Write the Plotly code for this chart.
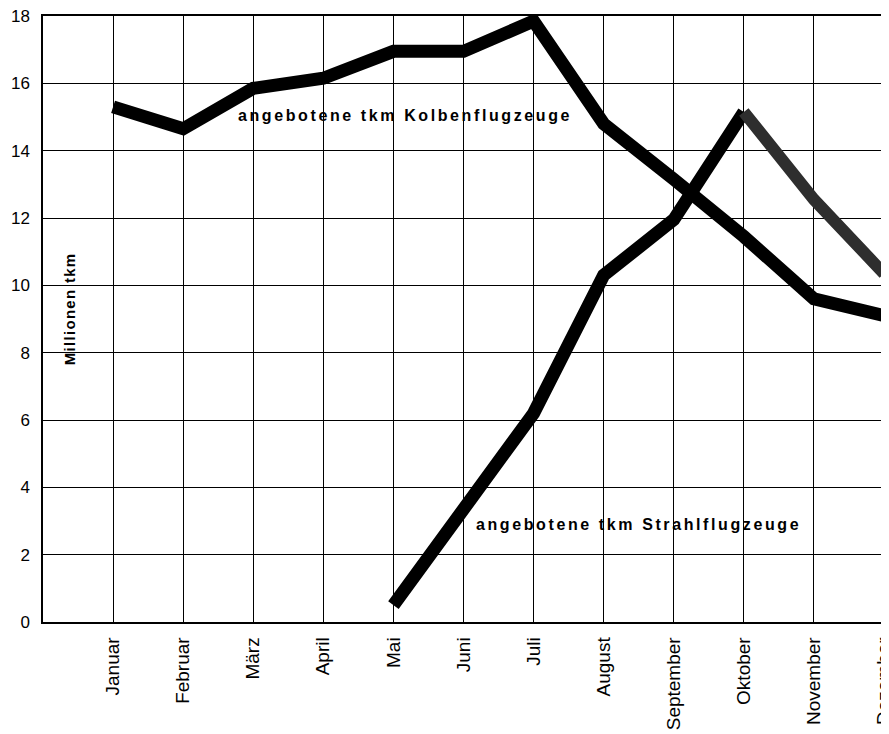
import plotly.graph_objects as go

months = ["Januar", "Februar", "März", "April", "Mai", "Juni", "Juli",
          "August", "September", "Oktober", "November", "Dezember"]
kolben = [15.3, 14.65, 15.85, 16.15, 16.95, 16.95, 17.85, 14.8, 13.15, 11.45, 9.6, 9.1]
strahl_months = ["Mai", "Juni", "Juli", "August", "September", "Oktober", "November", "Dezember"]
strahl = [0.5, 3.3, 6.2, 10.3, 11.95, 15.15, 12.55, 10.35]
y_ticks = [0, 2, 4, 6, 8, 10, 12, 14, 16, 18]

pos = {m: i + 1 for i, m in enumerate(months)}

fig = go.Figure()
fig.add_trace(go.Scatter(x=[pos[m] for m in months], y=kolben, mode="lines",
                         line=dict(color="black", width=13), showlegend=False))
xs = [pos[m] for m in strahl_months]
fig.add_trace(go.Scatter(x=xs[:6], y=strahl[:6], mode="lines",
                         line=dict(color="black", width=13), showlegend=False))
fig.add_trace(go.Scatter(x=xs[5:], y=strahl[5:], mode="lines",
                         line=dict(color="#2e2e2e", width=12), showlegend=False))

fam = "Liberation Sans, Arial, sans-serif"
lab_font = dict(family=fam, size=16, color="black")
fig.add_annotation(x=5.17, y=15.03, xref="x", yref="y", showarrow=False,
                   text='<b><span style="letter-spacing:2.6px">angebotene tkm Kolbenflugzeuge</span></b>',
                   font=lab_font)
fig.add_annotation(x=8.49, y=2.91, xref="x", yref="y", showarrow=False,
                   text='<b><span style="letter-spacing:2.6px">angebotene tkm Strahlflugzeuge</span></b>',
                   font=lab_font)
fig.add_annotation(x=0.39, y=9.3, xref="x", yref="y", showarrow=False, textangle=-90,
                   text='<b><span style="letter-spacing:1.3px">Millionen tkm</span></b>',
                   font=dict(family=fam, size=15, color="black"))

fig.update_xaxes(range=[0, 12], tickvals=list(range(1, 13)), ticktext=months,
                 tickangle=-90, showgrid=True, gridcolor="black", gridwidth=1.3,
                 showline=True, linecolor="black", linewidth=1.5, mirror=True,
                 zeroline=False, ticks="", ticklabelstandoff=6, automargin=False,
                 ticklabeloverflow="allow",
                 tickfont=dict(family=fam, size=19, color="black"))
fig.update_yaxes(range=[0, 18], tickvals=y_ticks, showgrid=True, gridcolor="black",
                 gridwidth=1.3, showline=True, linecolor="black", linewidth=1.5, mirror=True,
                 zeroline=False, ticks="", ticklabelstandoff=8, automargin=False,
                 ticklabeloverflow="allow",
                 tickfont=dict(family=fam, size=17, color="black"))
# page body has an 8px margin: shift the figure so the plot area lands where the reference has it
fig.update_layout(width=881, height=726, margin=dict(l=35, r=5, t=8, b=112),
                  plot_bgcolor="white", paper_bgcolor="white")
fig.write_html("out.html")
